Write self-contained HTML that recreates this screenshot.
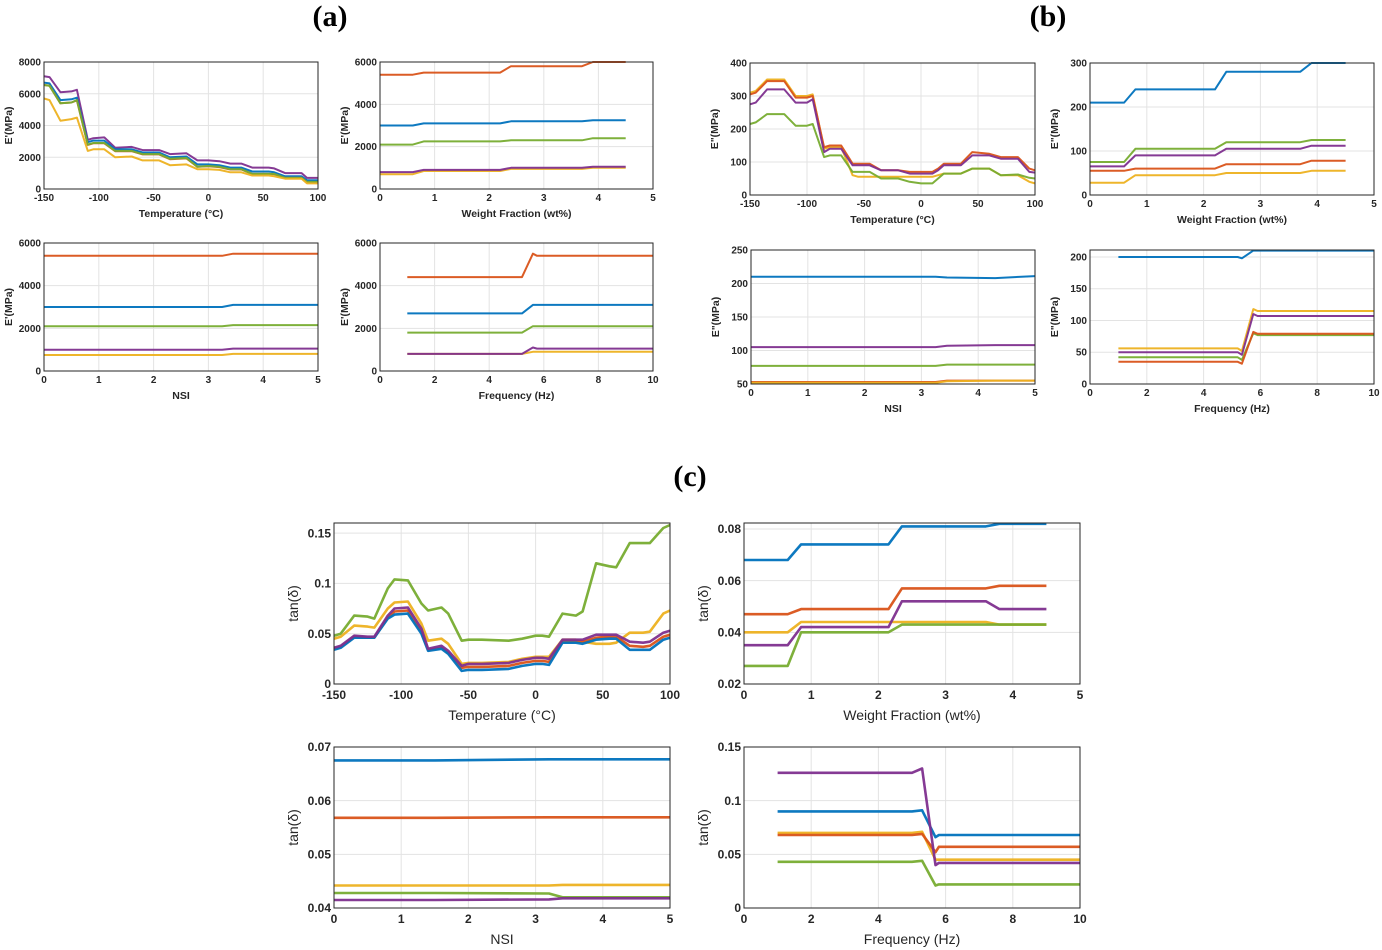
<!DOCTYPE html>
<html><head><meta charset="utf-8"><style>
body{margin:0;background:#fff;width:1382px;height:950px;overflow:hidden}
svg{display:block}
text{font-family:"Liberation Sans",sans-serif;fill:#262626}
.pl{font-family:"Liberation Serif",serif;font-weight:bold;font-size:30px;fill:#000}
</style></head><body>
<svg id="fig" width="1382" height="950">
<text class="pl" x="330" y="26" text-anchor="middle">(a)</text>
<text class="pl" x="1048" y="26" text-anchor="middle">(b)</text>
<text class="pl" x="690" y="486" text-anchor="middle">(c)</text>
</svg>
<script>
const C={blue:'#0072BD',orange:'#D95319',yellow:'#EDB120',purple:'#7E2F8E',green:'#77AC30'};
// (a) E' vs temperature
const aTL_x=[-150,-145,-135,-125,-120,-110,-105,-95,-85,-70,-60,-45,-35,-20,-10,0,10,20,30,40,55,60,70,85,90,100];
const aTL_purple=[7100,7050,6100,6150,6250,3100,3200,3250,2600,2650,2450,2450,2200,2250,1800,1800,1750,1600,1600,1350,1350,1300,1000,1000,700,700];
const aTL_blue=[6700,6650,5600,5650,5750,2950,3050,3050,2500,2500,2300,2300,2000,2050,1550,1550,1500,1350,1350,1100,1100,1050,800,800,550,550];
const aTL_orange=[6550,6500,5400,5450,5580,2780,2880,2880,2380,2380,2180,2180,1880,1930,1400,1430,1380,1230,1230,950,950,930,700,700,430,430];
const aTL_green=[6550,6500,5400,5450,5600,2800,2900,2900,2400,2400,2200,2200,1900,1950,1400,1450,1400,1250,1250,950,950,950,700,700,450,450];
const aTL_yellow=[5700,5600,4300,4400,4500,2400,2500,2500,2000,2050,1800,1800,1500,1550,1250,1250,1200,1050,1050,850,850,800,650,650,350,350];
// (a) weight fraction
const aTR_x=[0,0.6,0.8,2.2,2.4,3.7,3.9,4.5];
const aTR_orange=[5400,5400,5500,5500,5800,5800,6000,6000];
const aTR_blue=[3000,3000,3100,3100,3200,3200,3250,3250];
const aTR_green=[2100,2100,2250,2250,2300,2300,2400,2400];
const aTR_purple=[800,800,900,900,1000,1000,1050,1050];
const aTR_yellow=[700,700,850,850,950,950,1000,1000];
// (a) NSI
const aBL_x=[0,3.25,3.45,5];
const aBL_orange=[5400,5400,5500,5500];
const aBL_blue=[3000,3000,3100,3100];
const aBL_green=[2100,2100,2150,2150];
const aBL_purple=[1000,1000,1050,1050];
const aBL_yellow=[750,750,800,800];
// (a) frequency
const aBR_x=[1,5.2,5.6,5.75,10];
const aBR_orange=[4400,4400,5500,5400,5400];
const aBR_blue=[2700,2700,3100,3100,3100];
const aBR_green=[1800,1800,2100,2100,2100];
const aBR_purple=[800,800,1100,1050,1050];
const aBR_yellow=[800,800,900,900,900];
// (b) E'' vs temperature
const bTL_x=[-150,-145,-135,-120,-110,-100,-95,-85,-80,-70,-60,-55,-45,-35,-20,-10,0,10,15,20,35,45,60,70,85,95,100];
const bTL_orange=[305,310,345,345,295,295,300,145,150,150,95,95,95,75,75,70,70,70,80,95,95,130,125,115,115,80,75];
const bTL_yellow=[310,315,350,350,300,300,305,140,145,145,60,55,55,55,55,55,55,55,60,65,65,80,80,60,60,40,35];
const bTL_purple=[275,280,320,320,280,280,290,130,140,140,90,90,90,75,75,65,65,65,75,90,90,120,120,110,110,70,68];
const bTL_green=[215,220,245,245,210,210,215,115,120,120,70,70,70,50,50,40,35,35,50,65,65,80,80,60,62,52,50];
// (b) weight fraction
const bTR_x=[0,0.6,0.8,2.2,2.4,3.7,3.9,4.5];
const bTR_blue=[210,210,240,240,280,280,300,300];
const bTR_green=[75,75,105,105,120,120,125,125];
const bTR_purple=[65,65,90,90,105,105,112,112];
const bTR_orange=[55,55,60,60,70,70,78,78];
const bTR_yellow=[28,28,45,45,50,50,55,55];
// (b) NSI
const bBL_x=[0,3.25,3.45,4.3,5];
const bBL_blue=[210,210,209,208,211];
const bBL_purple=[105,105,107,108,108];
const bBL_green=[77,77,79,79,79];
const bBL_orange=[53,53,55,55,55];
const bBL_yellow=[52,52,54,55,55];
// (b) frequency
const bBR_x=[1,5.2,5.35,5.75,5.9,10];
const bBR_blue=[200,200,198,210,210,210];
const bBR_yellow=[56,56,52,118,115,115];
const bBR_purple=[50,50,46,110,107,107];
const bBR_green=[42,42,38,80,77,77];
const bBR_orange=[35,35,32,82,79,79];
// (c) tan delta vs temperature
const cTL_x=[-150,-145,-135,-125,-120,-110,-105,-95,-85,-80,-70,-65,-55,-50,-40,-20,-10,0,5,10,20,30,35,45,55,60,70,80,85,95,100];
const cTL_green=[.048,.050,.068,.067,.065,.095,.104,.103,.080,.073,.076,.070,.043,.044,.044,.043,.045,.048,.048,.047,.070,.068,.072,.120,.117,.116,.140,.140,.140,.155,.158];
const cTL_yellow=[.045,.047,.058,.057,.056,.075,.081,.082,.060,.043,.045,.040,.020,.021,.021,.022,.025,.027,.027,.027,.044,.044,.042,.040,.040,.041,.051,.051,.052,.070,.073];
const cTL_orange=[.035,.037,.047,.046,.046,.066,.072,.073,.052,.034,.036,.031,.016,.017,.017,.018,.021,.023,.023,.022,.042,.042,.042,.046,.047,.047,.038,.037,.038,.047,.049];
const cTL_purple=[.036,.038,.048,.047,.047,.068,.075,.076,.055,.035,.038,.033,.018,.020,.020,.021,.024,.026,.026,.025,.044,.044,.044,.049,.049,.049,.042,.041,.042,.051,.053];
const cTL_blue=[.034,.036,.046,.046,.046,.065,.069,.070,.050,.033,.035,.030,.013,.014,.014,.015,.018,.020,.020,.019,.041,.041,.040,.044,.045,.045,.034,.034,.034,.044,.046];
// (c) weight fraction
const cTR_x=[0,0.5,0.65,0.85,2.15,2.35,3.6,3.8,4.5];
const cTR_blue=[.068,.068,.068,.074,.074,.081,.081,.082,.082];
const cTR_orange=[.047,.047,.047,.049,.049,.057,.057,.058,.058];
const cTR_purple=[.035,.035,.035,.042,.042,.052,.052,.049,.049];
const cTR_yellow=[.040,.040,.040,.044,.044,.044,.044,.043,.043];
const cTR_green=[.027,.027,.027,.040,.040,.043,.043,.043,.043];
// (c) NSI
const cBL_x=[0,1.5,3.2,3.4,5];
const cBL_blue=[.0675,.0675,.0677,.0677,.0677];
const cBL_orange=[.0568,.0568,.0569,.0569,.0569];
const cBL_yellow=[.0442,.0442,.0442,.0443,.0443];
const cBL_green=[.0428,.0428,.0427,.0420,.0420];
const cBL_purple=[.0415,.0415,.0416,.0418,.0418];
// (c) frequency
const cBR_x=[1,5.0,5.3,5.7,5.8,10];
const cBR_purple=[.126,.126,.130,.040,.042,.042];
const cBR_blue=[.090,.090,.091,.066,.068,.068];
const cBR_orange=[.068,.068,.069,.052,.057,.057];
const cBR_yellow=[.070,.070,.071,.045,.045,.045];
const cBR_green=[.043,.043,.044,.021,.022,.022];

const svg=document.getElementById('fig');
const NS='http://www.w3.org/2000/svg';
function mk(tag,at,parent){const e=document.createElementNS(NS,tag);for(const k in at)e.setAttribute(k,at[k]);(parent||svg).appendChild(e);return e;}
function range(a,b,s){const r=[];for(let v=a;v<=b+1e-9;v+=s)r.push(+v.toFixed(6));return r;}
function fmt(v){return String(+v.toFixed(4));}

function panel(name,box,xl,yl,xt,yt,xlab,ylab,series,big){
  const [x0,y0,x1,y1]=box;
  const g=mk('g',{});
  
  
  const sx=v=>x0+(v-xl[0])/(xl[1]-xl[0])*(x1-x0);
  const sy=v=>y1-(v-yl[0])/(yl[1]-yl[0])*(y1-y0);
  const fs=big?12:10, ls=big?14:10.5, lw=big?2.6:2;
  xt.forEach(v=>{const X=sx(v);
    const l=mk('line',{x1:X,x2:X,y1:y0,y2:y1,stroke:'#e3e3e3','stroke-width':1},g);
    
    const t=mk('text',{x:X,y:y1+(big?15:12),'text-anchor':'middle','font-size':fs,'font-weight':'bold'},g);
    t.textContent=fmt(v);
    });
  yt.forEach(v=>{const Y=sy(v);
    const l=mk('line',{x1:x0,x2:x1,y1:Y,y2:Y,stroke:'#e3e3e3','stroke-width':1},g);
    
    const t=mk('text',{x:x0-3,y:Y+fs*0.35,'text-anchor':'end','font-size':fs,'font-weight':'bold'},g);
    t.textContent=fmt(v);
    });
  series.forEach(s=>{
    const pts=s.x.map((v,i)=>sx(v).toFixed(1)+','+sy(s.y[i]).toFixed(1)).join(' ');
    const p=mk('polyline',{points:pts,fill:'none',stroke:C[s.c],'stroke-width':lw,'stroke-linejoin':'round','stroke-opacity':0.95},g);
    
    });
  const b=mk('rect',{x:x0,y:y0,width:x1-x0,height:y1-y0,fill:'none',stroke:'#262626','stroke-width':1},g);
  
  const xlT=mk('text',{x:(x0+x1)/2,y:y1+(big?36:28),'text-anchor':'middle','font-size':ls,'font-weight':big?'normal':'bold'},g);
  xlT.textContent=xlab;
  
  const yx=x0-(big?36:32), yc=(y0+y1)/2;
  const ylT=mk('text',{x:yx,y:yc,'text-anchor':'middle','font-size':ls,'font-weight':big?'normal':'bold',transform:`rotate(-90 ${yx} ${yc})`},g);
  ylT.textContent=ylab;
  
}
function S(x,obj,order){return order.map(c=>({c:c,x:x,y:obj[c]}));}
const T='Temperature (°C)',W='Weight Fraction (wt%)',F='Frequency (Hz)';
panel('a-temperature-plot',[44,62,318,189],[-150,100],[0,8000],range(-150,100,50),range(0,8000,2000),T,"E'(MPa)",
  S(aTL_x,{purple:aTL_purple,blue:aTL_blue,orange:aTL_orange,green:aTL_green,yellow:aTL_yellow},['purple','blue','orange','green','yellow']));
panel('a-weight-plot',[380,62,653,189],[0,5],[0,6000],range(0,5,1),range(0,6000,2000),W,"E'(MPa)",
  S(aTR_x,{orange:aTR_orange,blue:aTR_blue,green:aTR_green,purple:aTR_purple,yellow:aTR_yellow},['orange','blue','green','yellow','purple']));
panel('a-nsi-plot',[44,243,318,371],[0,5],[0,6000],range(0,5,1),range(0,6000,2000),'NSI',"E'(MPa)",
  S(aBL_x,{orange:aBL_orange,blue:aBL_blue,green:aBL_green,purple:aBL_purple,yellow:aBL_yellow},['orange','blue','green','purple','yellow']));
panel('a-frequency-plot',[380,243,653,371],[0,10],[0,6000],range(0,10,2),range(0,6000,2000),F,"E'(MPa)",
  S(aBR_x,{orange:aBR_orange,blue:aBR_blue,green:aBR_green,purple:aBR_purple,yellow:aBR_yellow},['orange','blue','green','yellow','purple']));
panel('b-temperature-plot',[750,63,1035,195],[-150,100],[0,400],range(-150,100,50),range(0,400,100),T,'E"(MPa)',
  S(bTL_x,{orange:bTL_orange,yellow:bTL_yellow,purple:bTL_purple,green:bTL_green},['yellow','orange','purple','green']));
panel('b-weight-plot',[1090,63,1374,195],[0,5],[0,300],range(0,5,1),range(0,300,100),W,'E"(MPa)',
  S(bTR_x,{blue:bTR_blue,green:bTR_green,purple:bTR_purple,orange:bTR_orange,yellow:bTR_yellow},['blue','green','purple','orange','yellow']));
panel('b-nsi-plot',[751,250,1035,384],[0,5],[50,250],range(0,5,1),range(50,250,50),'NSI','E"(MPa)',
  S(bBL_x,{blue:bBL_blue,purple:bBL_purple,green:bBL_green,orange:bBL_orange,yellow:bBL_yellow},['blue','purple','green','orange','yellow']));
panel('b-frequency-plot',[1090,250,1374,384],[0,10],[0,211],range(0,10,2),range(0,200,50),F,'E"(MPa)',
  S(bBR_x,{blue:bBR_blue,yellow:bBR_yellow,purple:bBR_purple,green:bBR_green,orange:bBR_orange},['blue','yellow','purple','green','orange']));
panel('c-temperature-plot',[334,523,670,684],[-150,100],[0,0.16],range(-150,100,50),[0,0.05,0.1,0.15],T,'tan(δ)',
  S(cTL_x,{green:cTL_green,yellow:cTL_yellow,orange:cTL_orange,purple:cTL_purple,blue:cTL_blue},['green','yellow','orange','blue','purple']),true);
panel('c-weight-plot',[744,523,1080,684],[0,5],[0.02,0.0823],range(0,5,1),[0.02,0.04,0.06,0.08],W,'tan(δ)',
  S(cTR_x,{blue:cTR_blue,orange:cTR_orange,purple:cTR_purple,yellow:cTR_yellow,green:cTR_green},['blue','orange','yellow','purple','green']),true);
panel('c-nsi-plot',[334,747,670,908],[0,5],[0.04,0.07],range(0,5,1),[0.04,0.05,0.06,0.07],'NSI','tan(δ)',
  S(cBL_x,{blue:cBL_blue,orange:cBL_orange,yellow:cBL_yellow,green:cBL_green,purple:cBL_purple},['blue','orange','yellow','green','purple']),true);
panel('c-frequency-plot',[744,747,1080,908],[0,10],[0,0.15],range(0,10,2),[0,0.05,0.1,0.15],F,'tan(δ)',
  S(cBR_x,{purple:cBR_purple,blue:cBR_blue,orange:cBR_orange,yellow:cBR_yellow,green:cBR_green},['yellow','orange','blue','purple','green']),true);
</script>
</body></html>
